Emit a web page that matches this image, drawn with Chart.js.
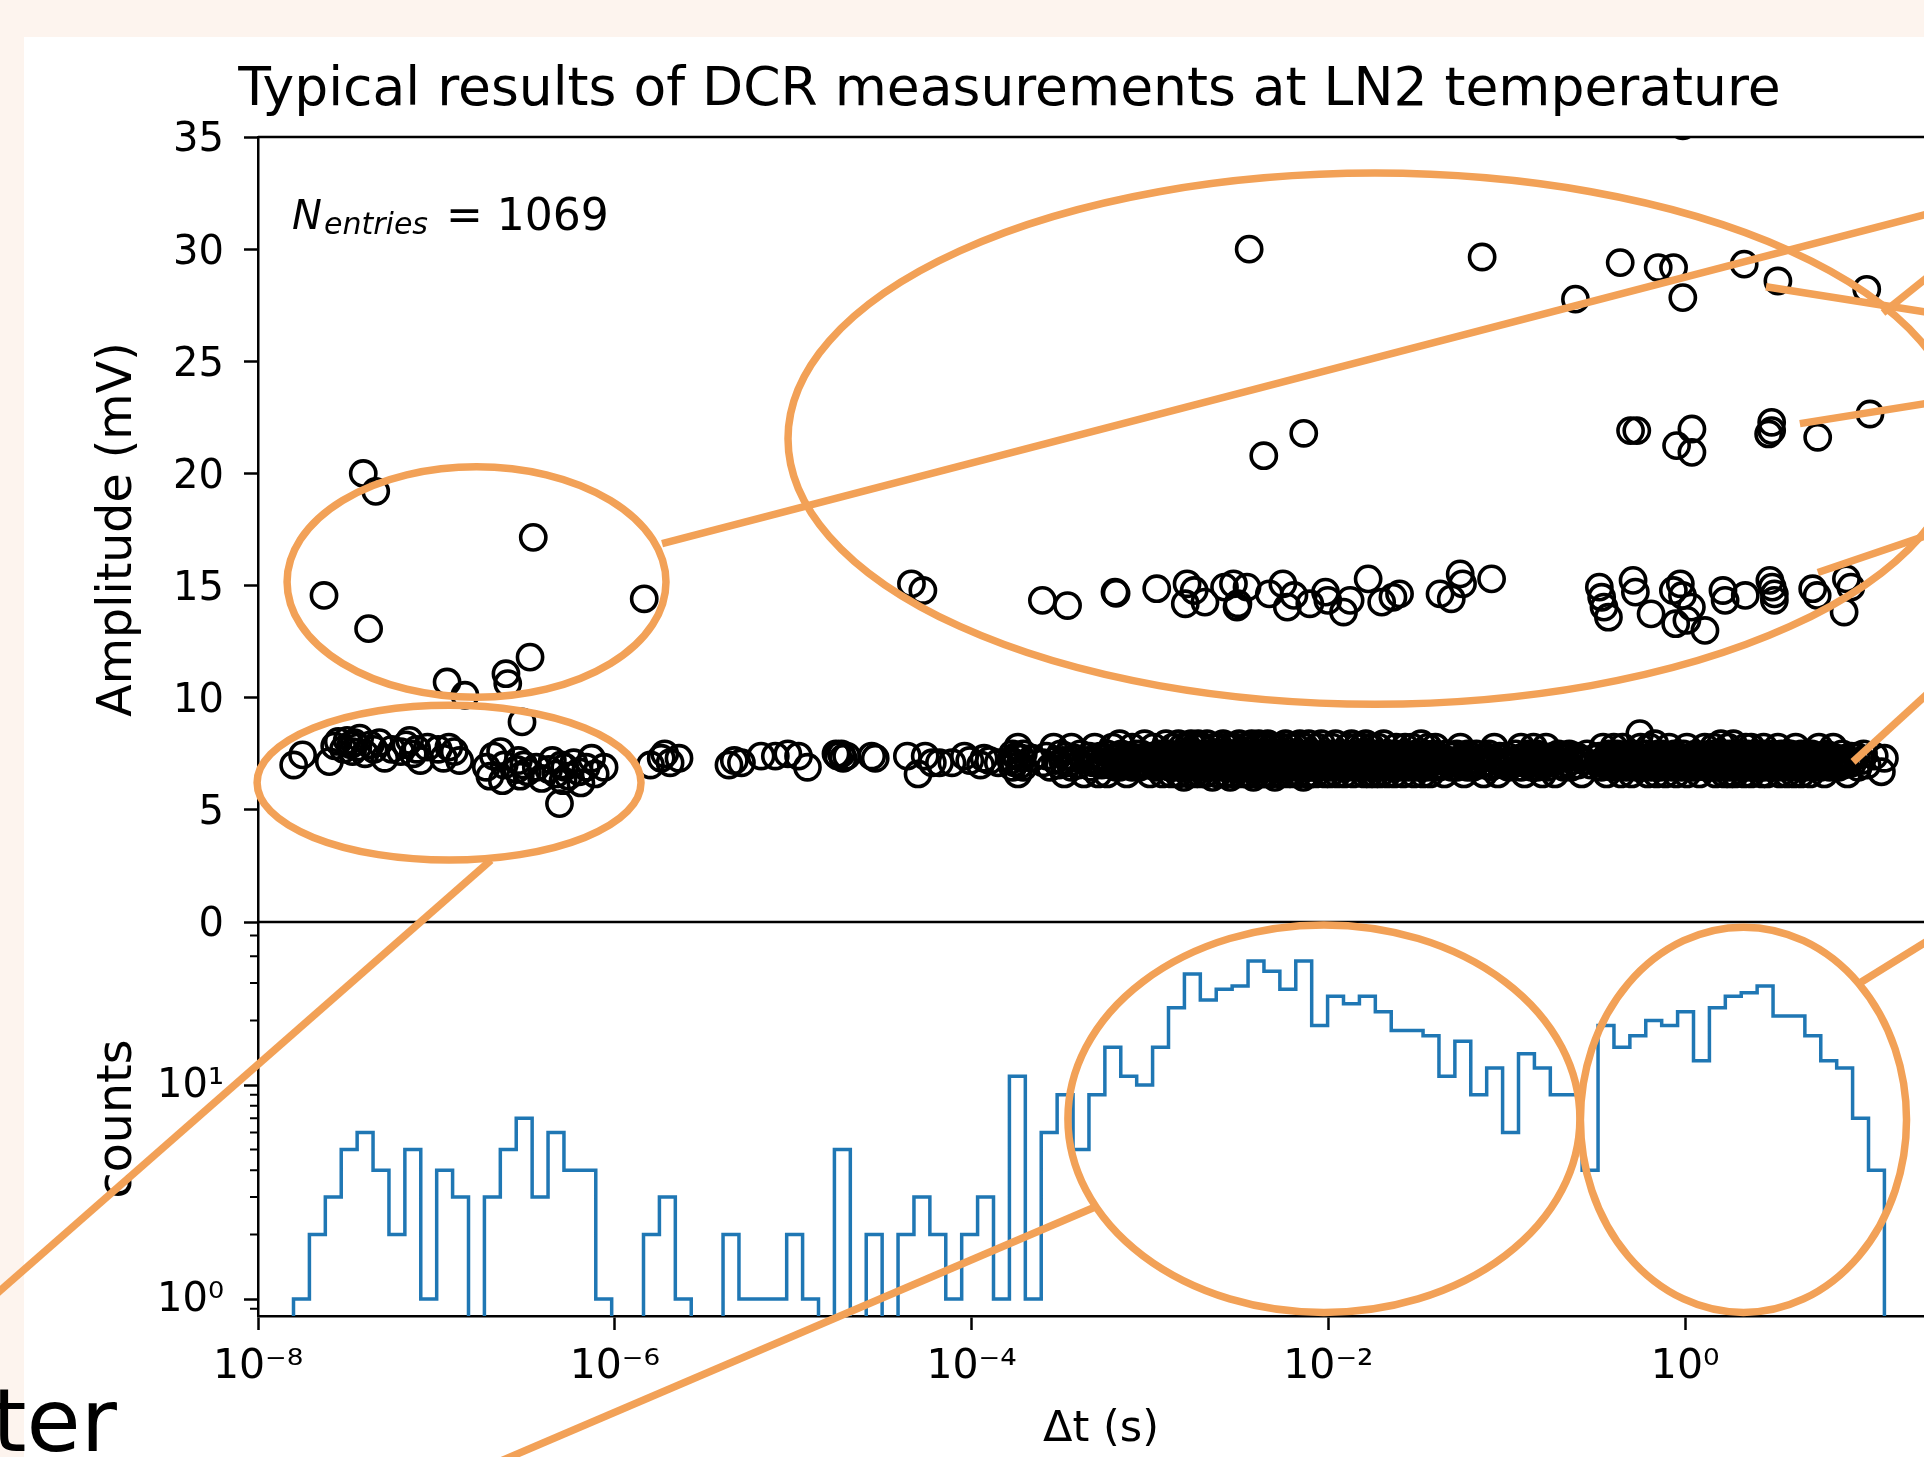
<!DOCTYPE html>
<html>
<head>
<meta charset="utf-8">
<script src="https://cdn.jsdelivr.net/npm/chart.js@4.4.1/dist/chart.umd.min.js"></script>
<style>
html,body{margin:0;padding:0;width:1924px;height:1457px;overflow:hidden;background:#fdf4ee;}
#panel{position:absolute;left:24px;top:37px;width:1900px;height:1420px;background:#ffffff;}
#wrap{position:absolute;left:0;top:0;width:2000px;height:1457px;}
#slideText{position:absolute;left:-8px;top:1377px;font-family:"DejaVu Sans";font-size:88px;line-height:88px;color:#000;white-space:nowrap;}
</style>
</head>
<body>
<div id="panel"></div>
<div id="wrap"><canvas id="c" width="2000" height="1457" style="width:2000px;height:1457px"></canvas></div>
<div id="slideText">ter</div>
<script>
// ---------- texts ----------
const titleText = 'Typical results of DCR measurements at LN2 temperature';
const xAxisLabel = 'Δt (s)';
const ampAxisLabel = 'Amplitude (mV)';
const countAxisLabel = 'counts';
const entriesCount = 1069;

// ---------- axes ----------
const xRange = [1e-8, 28.25];
const xTickValues = [1e-8, 1e-6, 1e-4, 1e-2, 1];
const ampRange = [0, 35];
const ampTickStep = 5;
const countRange = [0.833, 57.8];
const countTickValues = [1, 10];
const countMinorTicks = [0.9, 2, 3, 4, 5, 6, 7, 8, 9, 20, 30, 40, 50];

// ---------- histogram of Δt (100 log-spaced bins between first and last event) ----------
const histLog10Range = [-7.801, 1.117];
const histCounts = [
  1,2,3,5,6,4,2,5,1,4, 3,0,3,5,7,3,6,4,4,1,
  0,0,2,3,1,0,0,2,1,1, 1,2,1,0,5,0,2,0,2,3,
  2,1,2,3,1,11,1,6,9,5, 9,15,11,10,15,23,33,25,28,29,
  38,34,28,38,19,26,24,26,22,18, 18,17,11,16,9,12,6,14,12,9,
  9,4,19,15,17,20,19,22,13,23, 26,27,29,21,21,17,13,12,7,4
];

// ---------- scatter events: [log10(Δt / s), amplitude in mV] ----------
const earlyEvents = [
  [-7.80,7.0],[-7.75,7.45],[-7.63,14.56],[-7.60,7.15],[-7.57,7.85],[-7.55,8.05],
  [-7.52,7.7],[-7.50,8.1],[-7.48,7.9],[-7.47,7.6],[-7.46,8.0],
  [-7.44,7.8],[-7.43,8.2],[-7.41,20.0],[-7.40,7.5],[-7.38,13.08],[-7.37,7.9],
  [-7.35,7.7],[-7.34,19.2],[-7.32,8.0],[-7.29,7.3],
  [-7.25,7.7],[-7.20,7.6],
  [-7.17,7.9],[-7.15,8.1],[-7.13,7.5],[-7.11,7.7],[-7.09,7.2],
  [-7.05,7.8],
  [-6.99,7.7],[-6.96,7.3],[-6.94,10.7],[-6.93,7.8],
  [-6.90,7.6],[-6.87,7.2],[-6.84,10.11],
  [-6.72,6.9],[-6.70,6.5],[-6.68,7.4],
  [-6.64,7.6],[-6.63,6.3],[-6.62,7.0],[-6.61,11.07],[-6.60,10.63],
  [-6.55,6.8],[-6.54,7.2],[-6.53,6.5],[-6.52,8.92],[-6.51,7.0],[-6.49,6.7],[-6.475,11.81],
  [-6.457,17.15],[-6.44,6.9],[-6.41,6.4],
  [-6.37,6.8],[-6.35,7.2],[-6.33,6.6],[-6.31,5.28],[-6.30,7.0],[-6.29,6.3],
  [-6.28,6.9],[-6.26,6.5],[-6.23,7.1],[-6.20,6.7],
  [-6.19,6.2],[-6.16,6.9],[-6.13,7.3],[-6.11,6.6],
  [-6.06,6.9],
  [-5.835,14.41],[-5.80,7.0],
  [-5.74,7.3],[-5.72,7.5],[-5.69,7.1],
  [-5.64,7.3]
];

const bandEvents = [
  [-5.36,7.0],[-5.33,7.2],[-5.29,7.1],[-5.18,7.4],[-5.10,7.4],[-5.03,7.5],[-4.97,7.4],[-4.92,6.9],
  [-4.76,7.5],[-4.75,7.4],[-4.73,7.5],[-4.72,7.3],[-4.70,7.4],
  [-4.56,7.4],[-4.54,7.3],
  [-4.36,7.4],[-4.30,6.6],[-4.26,7.4],
  [-4.22,7.1],[-4.18,7.1],[-4.11,7.1],
  [-4.04,7.4],[-4.01,7.2],
  [-3.95,7.0],[-3.93,7.3],[-3.90,7.2],
  [-3.85,7.1],
  [-3.78,7.2],[-3.77,6.9],[-3.77,7.5],[-3.76,7.1],[-3.75,7.4],[-3.74,6.6],[-3.74,7.8],[-3.73,7.0],[-3.72,7.3],[-3.71,7.5],[-3.71,6.9],
  [-3.66,7.3],
  [-3.60,7.1],[-3.58,7.4],[-3.56,6.9],[-3.54,7.8],[-3.53,7.2],
  [-3.51,7.0],[-3.50,7.5],[-3.49,7.2],[-3.48,6.6],[-3.47,7.4],[-3.45,7.1],[-3.44,7.8],[-3.44,6.9],
  [-3.42,7.3],[-3.40,7.0],[-3.39,7.5],[-3.37,6.6],[-3.35,7.2],
  [-3.34,7.4],[-3.33,6.9],[-3.32,7.1],[-3.31,7.8],[-3.30,7.2],[-3.29,6.6],[-3.28,7.4],[-3.27,7.0],[-3.26,7.3],
  [-3.25,7.1],[-3.24,7.5],[-3.24,6.6],[-3.23,7.2],[-3.22,7.0],[-3.21,7.8],[-3.20,7.3],[-3.19,6.9],[-3.19,7.4],[-3.18,7.1],[-3.17,7.95],[-3.17,6.9],[-3.16,7.2],
  [-3.16,7.5],[-3.15,7.0],[-3.14,7.3],[-3.13,6.6],[-3.12,7.4],[-3.11,7.1],[-3.10,7.8],[-3.10,6.9],[-3.09,7.2],[-3.08,7.5],[-3.08,7.0],
  [-3.07,7.3],[-3.06,6.9],[-3.05,7.5],[-3.04,7.1],[-3.03,7.95],[-3.02,7.0],[-3.01,7.3],[-3.00,6.6],[-2.99,7.4],[-2.99,7.1],
  [-2.98,7.2],[-2.98,7.8],[-2.97,6.9],[-2.96,7.3],[-2.95,7.0],[-2.95,7.5],[-2.94,7.2],[-2.93,6.6],[-2.92,7.4],[-2.92,7.1],[-2.91,7.95],[-2.90,7.0],[-2.90,7.3],[-2.89,6.9],
  [-2.89,7.5],[-2.89,7.1],[-2.88,6.6],[-2.88,7.3],[-2.87,7.8],[-2.87,7.0],[-2.86,7.2],[-2.86,6.9],[-2.85,7.4],[-2.85,7.1],[-2.84,7.95],[-2.84,6.6],[-2.84,7.3],[-2.83,7.0],[-2.83,7.5],[-2.82,7.2],[-2.82,6.9],[-2.82,7.8],[-2.81,7.1],[-2.81,7.4],[-2.81,6.45],[-2.80,7.3],[-2.80,7.0],
  [-2.80,7.5],[-2.80,6.9],[-2.79,7.2],[-2.79,7.8],[-2.79,7.0],[-2.78,7.3],[-2.78,6.6],[-2.78,7.4],[-2.77,7.1],[-2.77,7.95],[-2.77,6.9],[-2.76,7.2],[-2.76,7.5],[-2.76,7.0],[-2.75,7.3],[-2.75,6.6],[-2.75,7.8],[-2.74,7.1],[-2.74,7.4],[-2.74,6.9],[-2.73,7.2],[-2.73,7.95],[-2.73,7.0],[-2.73,7.4],[-2.72,6.6],[-2.72,7.3],[-2.72,7.1],[-2.72,7.8],[-2.71,7.0],[-2.71,7.3],
  [-2.71,7.5],[-2.71,6.9],[-2.70,7.2],[-2.70,7.8],[-2.70,7.0],[-2.69,7.3],[-2.69,6.6],[-2.68,7.4],[-2.68,7.1],[-2.68,7.95],[-2.67,7.0],[-2.67,7.3],[-2.66,6.9],[-2.66,7.5],[-2.66,7.2],[-2.65,7.0],[-2.65,7.4],[-2.65,6.45],[-2.64,7.2],[-2.64,7.8],[-2.64,7.0],[-2.63,7.3],[-2.63,6.9],[-2.63,7.5],
  [-2.62,7.1],[-2.62,7.4],[-2.62,6.6],[-2.61,7.2],[-2.61,7.8],[-2.61,7.0],[-2.60,7.3],[-2.60,6.9],[-2.60,7.5],[-2.59,7.1],[-2.59,7.95],[-2.59,7.0],[-2.58,7.3],[-2.58,6.6],[-2.58,7.4],[-2.57,7.1],[-2.57,7.8],[-2.57,6.9],[-2.56,7.2],[-2.56,7.5],[-2.56,7.0],[-2.55,7.3],[-2.55,6.45],[-2.55,7.4],[-2.54,7.1],[-2.54,7.8],[-2.54,6.9],
  [-2.53,7.2],[-2.53,7.5],[-2.53,6.6],[-2.52,7.3],[-2.52,7.0],[-2.52,7.8],[-2.51,7.1],[-2.51,7.4],[-2.51,6.9],[-2.50,7.2],[-2.50,7.95],[-2.50,7.0],[-2.49,7.3],[-2.49,6.6],[-2.49,7.5],[-2.48,7.1],[-2.48,7.4],[-2.48,6.9],[-2.47,7.2],[-2.47,7.8],[-2.47,7.0],[-2.46,7.3],[-2.46,6.6],[-2.46,7.5],[-2.45,7.1],
  [-2.45,7.4],[-2.45,6.9],[-2.45,7.2],[-2.45,7.8],[-2.44,7.0],[-2.44,7.3],[-2.44,6.6],[-2.44,7.5],[-2.43,7.1],[-2.43,7.95],[-2.43,6.9],[-2.43,7.3],[-2.42,7.0],[-2.42,7.4],[-2.42,7.2],[-2.42,6.45],[-2.41,7.5],[-2.41,7.1],[-2.41,6.9],[-2.41,7.3],[-2.40,7.8],[-2.40,7.0],[-2.40,7.2],[-2.40,6.6],[-2.39,7.4],[-2.39,7.1],[-2.39,7.95],[-2.39,6.9],[-2.38,7.3],[-2.38,7.0],[-2.38,7.5],[-2.38,7.2],[-2.37,6.6],[-2.37,7.4],[-2.37,7.1],[-2.37,7.8],
  [-2.36,7.0],[-2.36,7.3],[-2.36,6.9],[-2.36,7.5],[-2.35,7.2],[-2.35,7.8],[-2.35,7.0],[-2.35,6.6],[-2.34,7.4],[-2.34,7.1],[-2.34,7.95],[-2.34,6.9],[-2.33,7.3],[-2.33,7.0],[-2.33,7.5],[-2.33,7.2],[-2.32,6.6],[-2.32,7.4],[-2.32,7.1],[-2.32,7.8],[-2.31,7.0],[-2.31,7.3],[-2.31,6.9],[-2.31,7.5],[-2.30,7.2],[-2.30,7.8],[-2.30,7.0],[-2.30,6.45],[-2.29,7.4],[-2.29,7.1],[-2.29,7.3],[-2.28,6.9],[-2.28,7.5],
  [-2.27,7.2],[-2.27,6.6],[-2.27,7.5],[-2.26,7.0],[-2.26,7.3],[-2.26,7.8],[-2.25,7.1],[-2.25,6.9],[-2.25,7.4],[-2.24,7.2],[-2.24,7.95],[-2.24,7.0],[-2.23,7.3],[-2.23,6.6],[-2.23,7.5],[-2.22,7.1],[-2.22,7.4],[-2.22,6.9],[-2.21,7.2],[-2.21,7.8],[-2.21,7.0],[-2.20,7.3],[-2.20,6.6],[-2.20,7.5],[-2.19,7.1],
  [-2.18,7.3],[-2.18,7.0],[-2.18,7.8],[-2.18,6.9],[-2.17,7.2],[-2.17,7.5],[-2.17,6.6],[-2.17,7.1],[-2.16,7.4],[-2.16,7.0],[-2.16,7.95],[-2.16,7.2],[-2.15,6.9],[-2.15,7.3],[-2.15,7.5],[-2.15,7.0],[-2.14,6.45],[-2.14,7.2],[-2.14,7.4],[-2.14,7.1],[-2.13,7.8],[-2.13,6.9],[-2.13,7.3],[-2.13,7.0],[-2.12,7.5],[-2.12,6.6],[-2.12,7.2],[-2.12,7.4],[-2.11,7.1],[-2.11,7.95],[-2.11,6.9],[-2.11,7.3],[-2.10,7.0],[-2.10,7.5],[-2.10,7.2],[-2.10,6.6],
  [-2.09,7.2],[-2.09,6.9],[-2.08,7.5],[-2.08,7.0],[-2.07,7.3],[-2.07,6.6],[-2.06,7.8],[-2.06,7.1],[-2.05,7.4],[-2.05,6.9],[-2.04,7.2],[-2.04,7.95],[-2.03,7.0],[-2.03,7.3],[-2.02,6.6],[-2.02,7.5],[-2.01,7.1],[-2.01,7.4],
  [-2.00,7.0],[-2.00,7.3],[-2.00,6.9],[-1.99,7.5],[-1.99,7.2],[-1.99,6.6],[-1.98,7.4],[-1.98,7.1],[-1.98,7.8],[-1.97,7.0],[-1.97,7.3],[-1.97,6.9],[-1.96,7.5],[-1.96,7.2],[-1.96,7.95],[-1.95,7.0],[-1.95,6.6],[-1.95,7.4],[-1.94,7.1],[-1.94,7.3],[-1.94,6.9],[-1.93,7.5],[-1.93,7.2],[-1.93,7.0],[-1.92,7.4],
  [-1.91,7.1],[-1.91,6.6],[-1.91,7.5],[-1.90,7.3],[-1.90,7.0],[-1.89,7.8],[-1.89,7.2],[-1.89,6.9],[-1.88,7.4],[-1.88,7.1],[-1.87,7.95],[-1.87,7.0],[-1.87,7.3],[-1.86,6.6],[-1.86,7.5],[-1.85,7.2],[-1.85,6.9],[-1.85,7.4],[-1.84,7.1],[-1.84,7.8],[-1.83,7.0],[-1.83,7.3],
  [-1.82,7.4],[-1.82,6.9],[-1.82,7.2],[-1.81,7.8],[-1.81,7.0],[-1.81,7.3],[-1.80,6.6],[-1.80,7.5],[-1.80,7.1],[-1.79,7.4],[-1.79,6.9],[-1.79,7.95],[-1.78,7.2],[-1.78,7.0],[-1.78,7.3],[-1.77,6.6],[-1.77,7.5],[-1.77,7.1],[-1.76,7.4],[-1.76,6.9],[-1.76,7.8],[-1.75,7.2],[-1.75,7.0],[-1.74,7.3],[-1.74,6.6],
  [-1.73,7.5],[-1.73,7.1],[-1.73,6.9],[-1.72,7.3],[-1.72,7.8],[-1.71,7.0],[-1.71,7.4],[-1.71,6.6],[-1.70,7.2],[-1.70,7.5],[-1.69,7.1],[-1.69,6.9],[-1.69,7.95],[-1.68,7.3],[-1.68,7.0],[-1.67,7.4],[-1.67,6.6],[-1.67,7.2],[-1.66,7.5],[-1.66,7.1],[-1.65,6.9],
  [-1.64,7.3],[-1.64,7.0],[-1.63,7.5],[-1.63,6.6],[-1.62,7.2],[-1.62,7.8],[-1.61,7.0],[-1.61,7.4],[-1.60,6.9],[-1.60,7.2],[-1.59,7.5],[-1.59,7.1],[-1.58,6.6],[-1.58,7.3],[-1.57,7.8],[-1.57,7.0],
  [-1.55,7.2],[-1.55,6.9],[-1.54,7.4],[-1.54,7.0],[-1.53,7.8],[-1.53,7.2],[-1.52,6.6],[-1.52,7.3],[-1.51,7.5],[-1.51,7.0],[-1.50,7.2],[-1.50,6.9],[-1.49,7.4],[-1.49,7.1],[-1.48,7.95],[-1.48,7.0],[-1.47,7.3],[-1.47,6.6],
  [-1.46,7.5],[-1.46,7.1],[-1.45,6.9],[-1.45,7.3],[-1.44,7.8],[-1.44,7.0],[-1.43,7.2],[-1.43,6.6],[-1.42,7.4],[-1.42,7.1],[-1.41,7.5],[-1.41,6.9],[-1.40,7.2],[-1.40,7.8],[-1.39,7.0],[-1.39,7.3],[-1.38,6.9],
  [-1.38,7.4],[-1.37,7.0],[-1.36,7.3],[-1.35,6.6],[-1.34,7.5],[-1.33,7.1],[-1.32,7.2],[-1.31,6.9],[-1.30,7.4],
  [-1.29,7.1],[-1.28,7.5],[-1.28,6.9],[-1.27,7.2],[-1.26,7.8],[-1.26,7.0],[-1.25,7.3],[-1.24,6.6],[-1.24,7.4],[-1.23,7.1],[-1.22,7.5],[-1.22,6.9],[-1.21,7.2],[-1.20,7.0],
  [-1.20,7.4],[-1.19,6.9],[-1.18,7.2],[-1.17,7.5],[-1.15,7.0],[-1.14,7.3],[-1.13,6.6],[-1.12,7.4],
  [-1.11,7.1],[-1.10,7.5],[-1.09,6.9],[-1.08,7.3],[-1.07,7.0],[-1.07,7.8],[-1.06,7.2],[-1.05,6.6],[-1.04,7.4],[-1.03,7.1],[-1.03,7.3],
  [-1.02,7.0],[-1.00,7.4],[-0.99,6.9],[-0.97,7.2],[-0.95,7.5],[-0.94,7.1],
  [-0.93,7.3],[-0.92,6.9],[-0.92,7.8],[-0.91,7.1],[-0.90,7.4],[-0.90,6.6],[-0.89,7.2],[-0.88,7.5],[-0.88,7.0],[-0.87,7.3],[-0.86,6.9],[-0.86,7.4],[-0.85,7.1],[-0.85,7.8],
  [-0.84,7.2],[-0.83,6.9],[-0.83,7.5],[-0.82,7.1],[-0.81,7.3],[-0.80,6.6],[-0.80,7.4],[-0.79,7.0],[-0.78,7.8],[-0.77,7.2],[-0.77,6.9],[-0.76,7.3],
  [-0.75,7.1],[-0.74,7.4],[-0.73,6.6],[-0.72,7.2],[-0.71,7.5],[-0.70,7.0],[-0.69,7.3],[-0.68,6.9],[-0.67,7.4],
  [-0.66,7.1],[-0.65,7.5],[-0.64,6.9],[-0.63,7.2],[-0.61,7.4],[-0.60,7.0],[-0.59,7.3],[-0.58,6.6],
  [-0.57,7.2],[-0.55,7.5],[-0.53,7.0],[-0.51,7.3],
  [-0.48,7.1],[-0.48,7.4],[-0.47,6.9],[-0.46,7.2],[-0.46,7.8],[-0.45,7.0],[-0.44,7.3],[-0.44,6.6],[-0.43,7.5],[-0.42,7.1],[-0.42,7.4],[-0.41,6.9],[-0.40,7.2],[-0.40,7.8],[-0.40,7.0],
  [-0.39,7.3],[-0.39,6.9],[-0.38,7.5],[-0.37,7.1],[-0.37,7.4],[-0.36,6.6],[-0.35,7.2],[-0.35,7.8],[-0.34,7.0],[-0.33,7.3],[-0.33,6.9],[-0.32,7.5],[-0.32,7.1],[-0.31,7.4],
  [-0.31,7.0],[-0.30,7.3],[-0.30,6.6],[-0.29,7.5],[-0.28,7.1],[-0.27,7.4],[-0.27,6.9],[-0.26,7.2],[-0.25,7.8],[-0.24,7.0],[-0.23,7.3],[-0.23,6.9],
  [-0.22,7.5],[-0.22,7.1],[-0.21,6.6],[-0.21,7.3],[-0.20,7.8],[-0.20,7.0],[-0.19,7.2],[-0.19,6.9],[-0.18,7.4],[-0.18,7.1],[-0.17,7.95],[-0.17,7.0],[-0.16,7.3],[-0.16,6.6],[-0.15,7.5],[-0.15,7.2],[-0.14,6.9],[-0.14,7.4],
  [-0.13,7.1],[-0.13,7.5],[-0.12,7.0],[-0.12,7.3],[-0.11,6.6],[-0.10,7.4],[-0.10,7.1],[-0.09,7.8],[-0.08,7.0],[-0.08,7.2],[-0.07,6.9],[-0.06,7.5],[-0.06,7.1],[-0.05,7.3],[-0.05,6.6],
  [-0.04,7.4],[-0.03,7.0],[-0.03,7.3],[-0.02,6.9],[-0.01,7.5],[-0.01,7.1],[0.00,7.2],[0.01,6.6],[0.01,7.8],[0.02,7.0],[0.03,7.3],[0.03,6.9],[0.04,7.4],[0.04,7.1],
  [0.05,7.2],[0.06,6.9],[0.06,7.5],[0.07,7.1],[0.08,7.4],[0.08,6.6],[0.09,7.3],[0.10,7.0],[0.11,7.8],[0.11,7.2],[0.12,6.9],[0.13,7.4],
  [0.14,7.1],[0.14,7.5],[0.14,6.9],[0.15,7.3],[0.15,7.0],[0.16,7.8],[0.16,7.2],[0.17,6.6],[0.17,7.4],[0.17,7.1],[0.18,7.5],[0.18,6.9],[0.19,7.3],[0.19,7.0],[0.20,7.95],[0.20,7.2],[0.20,6.9],[0.21,7.4],[0.21,7.1],[0.22,7.5],[0.22,6.6],[0.22,7.2],
  [0.23,7.0],[0.23,7.4],[0.23,6.9],[0.24,7.2],[0.24,7.8],[0.24,7.1],[0.25,6.6],[0.25,7.3],[0.25,7.5],[0.26,7.0],[0.26,7.2],[0.26,6.9],[0.27,7.4],[0.27,7.1],[0.27,7.95],[0.28,7.0],[0.28,7.3],[0.28,6.6],[0.29,7.5],[0.29,7.2],[0.29,6.9],[0.30,7.4],[0.30,7.1],[0.31,7.3],[0.31,7.0],
  [0.32,7.2],[0.32,7.5],[0.32,6.9],[0.33,7.1],[0.33,7.4],[0.33,6.6],[0.34,7.3],[0.34,7.8],[0.34,7.0],[0.35,7.2],[0.35,6.9],[0.35,7.5],[0.36,7.1],[0.36,7.4],[0.36,7.0],[0.37,7.3],[0.37,6.6],[0.37,7.8],[0.38,7.2],[0.38,7.0],[0.38,7.4],[0.39,6.9],[0.39,7.3],[0.40,7.1],[0.40,7.5],
  [0.41,7.0],[0.41,7.3],[0.41,6.9],[0.42,7.5],[0.42,7.2],[0.42,7.0],[0.43,7.4],[0.43,6.6],[0.43,7.1],[0.44,7.8],[0.44,7.2],[0.44,6.9],[0.45,7.3],[0.45,7.0],[0.45,7.5],[0.46,7.1],[0.46,6.6],[0.46,7.4],[0.47,7.2],[0.47,7.0],[0.48,7.3],[0.48,6.9],[0.49,7.5],[0.49,7.1],
  [0.50,7.2],[0.50,6.9],[0.51,7.4],[0.51,7.0],[0.52,7.8],[0.52,7.1],[0.53,6.6],[0.53,7.3],[0.54,7.5],[0.54,7.0],[0.55,7.2],[0.55,6.9],[0.56,7.4],[0.56,7.1],[0.57,7.3],[0.57,6.6],[0.58,7.5],[0.58,7.0],
  [0.59,7.2],[0.59,6.9],[0.59,7.5],[0.60,7.1],[0.60,7.3],[0.61,6.6],[0.61,7.4],[0.62,7.0],[0.62,7.8],[0.63,7.2],[0.63,6.9],[0.64,7.3],[0.64,7.1],[0.65,7.5],[0.65,6.6],[0.66,7.2],[0.66,7.0],[0.67,7.4],[0.67,6.9],[0.68,7.3],[0.68,7.1],
  [0.68,7.5],[0.69,7.0],[0.69,7.3],[0.70,6.6],[0.71,7.2],[0.71,7.5],[0.72,7.0],[0.73,7.4],[0.73,6.9],[0.74,7.2],[0.75,7.8],[0.75,7.0],[0.76,7.3],[0.76,6.9],
  [0.77,7.1],[0.77,7.4],[0.78,6.6],[0.79,7.2],[0.79,7.5],[0.80,7.0],[0.81,7.3],[0.81,6.9],[0.82,7.4],[0.83,7.1],[0.83,7.8],[0.84,7.0],[0.84,7.2],
  [0.85,7.3],[0.86,6.9],[0.87,7.1],[0.88,7.5],[0.89,7.0],[0.90,7.3],[0.91,6.6],[0.92,7.2],[0.93,7.4],
  [0.94,7.1],[0.96,7.4],[0.97,6.9],[0.99,7.2],[1.00,7.5],[1.02,7.0],
  [1.06,7.4],[1.10,6.7],[1.117,7.3]
];

const upperEvents = [
  [-4.337,15.08],[-4.273,14.78],[-3.603,14.34],[-3.462,14.11],[-3.196,14.71],[-3.19,14.65],[-2.962,14.86],
  [-2.792,15.08],[-2.752,14.78],[-2.802,14.19],[-2.692,14.26],[-2.582,14.93],[-2.512,14.04],
  [-2.532,15.08],[-2.507,14.19],[-2.456,14.93],[-2.331,14.63],[-2.255,15.08],[-2.230,14.04],[-2.193,14.56],
  [-2.104,14.19],[-2.016,14.71],[-2.003,14.34],[-1.915,13.82],[-1.878,14.34],[-1.777,15.30],[-1.701,14.26],
  [-1.638,14.48],[-1.601,14.63],[-1.374,14.63],[-1.311,14.41],[-1.261,15.52],[-1.248,15.08],[-1.085,15.30],
  [-0.481,14.93],[-0.468,14.48],[-0.455,14.04],[-0.430,13.59],[-0.292,15.23],[-0.279,14.71],[-0.191,13.74],
  [-0.066,14.78],[-0.027,15.08],[-0.015,14.56],[0.010,13.45],[-0.053,13.30],[0.111,13.0],[0.035,14.04],
  [0.212,14.78],[0.224,14.34],[0.337,14.56],[0.475,15.23],[0.488,14.93],[0.500,14.63],[0.500,14.34],
  [0.715,14.86],[0.740,14.56],[0.904,15.30],[0.929,14.93],[0.891,13.82],
  [-2.362,20.79],[-2.138,21.79],[-0.306,21.91],[-0.271,21.91],[-0.048,21.24],[0.038,21.98],[0.038,20.94],
  [0.485,22.28],[0.485,21.91],[0.468,21.76],[0.743,21.61],[1.036,22.65],
  [-2.444,30.0],[-1.138,29.65],[-0.364,29.4],[-0.151,29.18],[-0.065,29.18],[-0.615,27.77],[-0.013,27.84],
  [0.331,29.33],[0.520,28.58],[1.018,28.21],[-0.013,35.5],
  [-0.254,8.40]
];

// ---------- hand-drawn orange callouts, in data units [log10(Δt), mV] ----------
const calloutEllipses = [ // [centre log10 Δt, centre mV, half-width in decades, half-height in mV]
  [-6.775, 15.16, 1.062, 5.14],
  [-6.929, 6.21, 1.076, 3.45],
  [-1.739, 21.55, 3.290, 11.84],
  [-2.025, -8.77, 1.435, 8.64],
  [0.327, -8.82, 0.914, 8.59]
];
const calloutLines = [ // [log10 Δt 1, mV 1, log10 Δt 2, mV 2]
  [-5.735, 16.87, 1.765, 32.41],
  [-6.694, 2.76, -9.502, -16.83],
  [-3.314, -12.73, -6.812, -24.62],
  [0.963, -2.80, 1.765, 1.16],
  [0.941, 7.14, 1.765, 13.13],
  [0.643, 22.22, 1.765, 23.64],
  [0.453, 28.32, 1.765, 26.67],
  [0.744, 15.58, 1.765, 18.34],
  [1.109, 27.16, 1.765, 31.34]
];
const calloutColor = '#f2a157';

// ---------- build datasets ----------
const toPoint = ([lt, a]) => ({x: Math.pow(10, lt), y: a});
const scatterData = earlyEvents.concat(bandEvents, upperEvents).map(toPoint);

// empty bins sit below the visible log range, so the outline drops out of the axes (as with log(0))
const emptyBinLevel = countRange[0] / 10;
const [hLo, hHi] = histLog10Range;
const histEdge = k => Math.pow(10, hLo + (hHi - hLo) * k / histCounts.length);
const lvl = c => (c > 0 ? c : emptyBinLevel);
const histData = [{x: histEdge(0), y: emptyBinLevel}];
histCounts.forEach((c, k) => histData.push({x: histEdge(k), y: lvl(c)}));
histData.push({x: histEdge(histCounts.length), y: lvl(histCounts[histCounts.length - 1])});
histData.push({x: histEdge(histCounts.length), y: emptyBinLevel});

const SUP = {'-':'⁻','0':'⁰','1':'¹','2':'²','3':'³','4':'⁴','5':'⁵','6':'⁶','7':'⁷','8':'⁸','9':'⁹'};
const pow10Label = v => '10' + String(Math.round(Math.log10(v))).split('').map(ch => SUP[ch]).join('');

Chart.defaults.font.family = "'DejaVu Sans', sans-serif";
Chart.defaults.color = '#000';

const FONT_TICK = {family: "'DejaVu Sans', sans-serif", size: 40};
const FONT_XTICK = {family: "'DejaVu Sans', sans-serif", size: 41};
const gridOpts = {drawOnChartArea: false, drawTicks: true, tickLength: 14, tickWidth: 2.5, tickColor: '#000'};
const borderOpts = {display: true, color: '#000', width: 2.5};

const spinesPlugin = {
  id: 'spines',
  afterDatasetsDraw(chart) {
    const {ctx, chartArea} = chart;
    const yA = chart.scales.y, yC = chart.scales.yc;
    ctx.save();
    ctx.strokeStyle = '#000';
    ctx.lineWidth = 2.5;
    ctx.beginPath();
    ctx.moveTo(chartArea.left, yA.top); ctx.lineTo(chartArea.right, yA.top);
    ctx.moveTo(chartArea.left, yA.bottom); ctx.lineTo(chartArea.right, yA.bottom);
    ctx.moveTo(chartArea.right, chartArea.top); ctx.lineTo(chartArea.right, chartArea.bottom);
    ctx.stroke();
    ctx.lineWidth = 2;
    ctx.beginPath();
    countMinorTicks.forEach(v => {
      const p = yC.getPixelForValue(v);
      ctx.moveTo(yC.right - 8, p); ctx.lineTo(yC.right, p);
    });
    ctx.stroke();
    // N_entries annotation
    const L = chartArea.left, T = yA.top;
    ctx.fillStyle = '#000';
    ctx.textAlign = 'left';
    ctx.textBaseline = 'alphabetic';
    ctx.font = "italic 40px 'DejaVu Sans'";
    ctx.fillText('N', L + 34, T + 91.5);
    ctx.font = "italic 30px 'DejaVu Sans'";
    ctx.fillText('entries', L + 66, T + 96.5);
    ctx.font = "44px 'DejaVu Sans'";
    ctx.fillText('= ' + entriesCount, L + 188, T + 93);
    ctx.restore();
  }
};

const calloutPlugin = {
  id: 'callouts',
  afterDraw(chart) {
    const {ctx} = chart;
    const xs = chart.scales.x, ys = chart.scales.y;
    const px = lt => xs.getPixelForValue(Math.pow(10, lt));
    const py = a => ys.getPixelForValue(a);
    ctx.save();
    ctx.strokeStyle = calloutColor;
    ctx.lineWidth = 7.5;
    calloutEllipses.forEach(([cl, ca, rl, ra]) => {
      const cx = px(cl), cy = py(ca);
      ctx.beginPath();
      ctx.ellipse(cx, cy, Math.abs(px(cl + rl) - cx), Math.abs(py(ca - ra) - cy), 0, 0, Math.PI * 2);
      ctx.stroke();
    });
    calloutLines.forEach(([l1, a1, l2, a2]) => {
      ctx.beginPath();
      ctx.moveTo(px(l1), py(a1));
      ctx.lineTo(px(l2), py(a2));
      ctx.stroke();
    });
    ctx.restore();
  }
};

new Chart(document.getElementById('c'), {
  type: 'scatter',
  data: {
    datasets: [
      {
        type: 'scatter',
        label: 'events',
        data: scatterData,
        xAxisID: 'x', yAxisID: 'y',
        pointStyle: 'circle',
        pointRadius: 12.6,
        pointHoverRadius: 12.6,
        pointBorderWidth: 3.6,
        borderColor: '#000',
        backgroundColor: 'rgba(0,0,0,0)',
        pointBorderColor: '#000',
        pointBackgroundColor: 'rgba(0,0,0,0)'
      },
      {
        type: 'line',
        label: 'counts',
        data: histData,
        xAxisID: 'x', yAxisID: 'yc',
        stepped: true,
        borderColor: '#1f77b4',
        borderWidth: 3.5,
        pointRadius: 0,
        fill: false,
        tension: 0
      }
    ]
  },
  options: {
    responsive: false,
    animation: false,
    devicePixelRatio: 1,
    events: [],
    layout: {padding: {left: 75, right: 56, top: 37, bottom: 0}},
    plugins: {
      legend: {display: false},
      tooltip: {enabled: false},
      title: {
        display: true,
        text: titleText,
        color: '#000',
        font: {family: "'DejaVu Sans', sans-serif", size: 53.5, weight: 'normal'},
        padding: {top: 22.1, bottom: 13.7}
      }
    },
    scales: {
      x: {
        type: 'logarithmic',
        position: 'bottom',
        min: xRange[0], max: xRange[1],
        z: 1,
        afterBuildTicks: s => { s.ticks = xTickValues.map(v => ({value: v})); },
        afterFit: s => { s.height = 141; },
        ticks: {callback: v => pow10Label(v), font: FONT_XTICK, color: '#000', padding: 13, maxRotation: 0, minRotation: 0, autoSkip: false},
        grid: gridOpts,
        border: borderOpts,
        title: {display: true, text: xAxisLabel, color: '#000', font: {family: "'DejaVu Sans', sans-serif", size: 43}, padding: {top: 0, bottom: 1}}
      },
      y: {
        type: 'linear',
        position: 'left',
        stack: 'panels',
        stackWeight: 785,
        weight: 1,
        min: ampRange[0], max: ampRange[1],
        afterFit: s => { s.width = 183; },
        ticks: {stepSize: ampTickStep, font: FONT_TICK, color: '#000', padding: 20, labelOffset: 4},
        grid: gridOpts,
        border: borderOpts,
        title: {display: true, text: ampAxisLabel, color: '#000', font: {family: "'DejaVu Sans', sans-serif", size: 47.5}, padding: {top: 15, bottom: 0}}
      },
      yc: {
        type: 'logarithmic',
        axis: 'y',
        position: 'left',
        stack: 'panels',
        stackWeight: 394,
        weight: 0,
        min: countRange[0], max: countRange[1],
        afterBuildTicks: s => { s.ticks = countTickValues.map(v => ({value: v})); },
        afterFit: s => { s.width = 183; },
        ticks: {callback: v => pow10Label(v), font: FONT_TICK, color: '#000', padding: 20, autoSkip: false, labelOffset: 2},
        grid: gridOpts,
        border: borderOpts,
        title: {display: true, text: countAxisLabel, color: '#000', font: {family: "'DejaVu Sans', sans-serif", size: 47.5}, padding: {top: 15, bottom: 0}}
      }
    }
  },
  plugins: [spinesPlugin, calloutPlugin]
});
</script>
</body>
</html>
